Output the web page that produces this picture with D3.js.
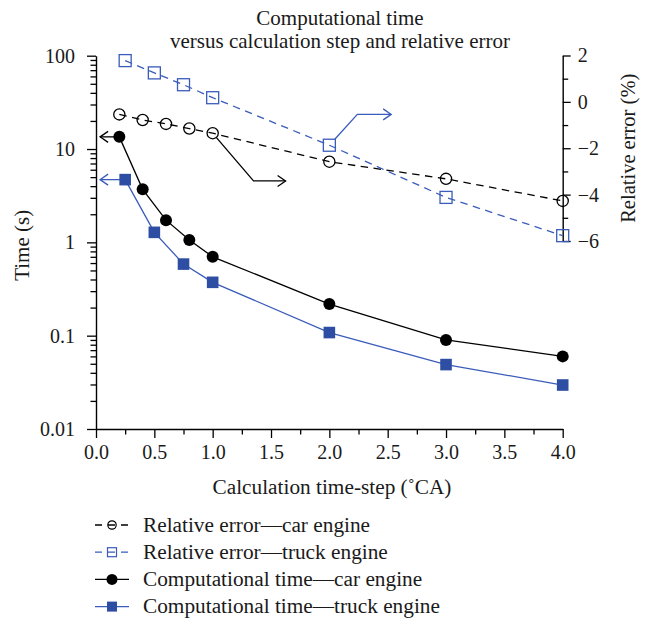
<!DOCTYPE html>
<html>
<head>
<meta charset="utf-8">
<script src="https://cdn.jsdelivr.net/npm/d3@7"></script>
<style>
  html, body { margin: 0; padding: 0; background: #fff; }
  svg text { font-family: "Liberation Serif", "DejaVu Serif", serif; fill: #1a1a1a; }
</style>
</head>
<body>
<svg id="chart" width="645" height="618"></svg>
<script>
// ---------- data ----------
const titleLines = ["Computational time", "versus calculation step and relative error"];
const xLabel = "Calculation time-step (\u02DACA)";
const yLeftLabel = "Time (s)";
const yRightLabel = "Relative error (%)";

const xTicks = [0, 0.5, 1, 1.5, 2, 2.5, 3, 3.5, 4];
const xTickLabels = ["0.0", "0.5", "1.0", "1.5", "2.0", "2.5", "3.0", "3.5", "4.0"];
const yLeftTicks = [0.01, 0.1, 1, 10, 100];
const yLeftTickLabels = ["0.01", "0.1", "1", "10", "100"];
const yRightTicks = [-6, -4, -2, 0, 2];
const yRightTickLabels = ["\u22126", "\u22124", "\u22122", "0", "2"];

const carSteps = [0.2, 0.4, 0.6, 0.8, 1.0, 2.0, 3.0, 4.0];
const truckSteps = [0.25, 0.5, 0.75, 1.0, 2.0, 3.0, 4.0];
const carTime = [13.5, 3.7, 1.73, 1.06, 0.70, 0.218, 0.09, 0.06];
const truckTime = [4.7, 1.28, 0.585, 0.373, 0.108, 0.049, 0.0296];
const carError = [-0.54, -0.78, -0.95, -1.15, -1.35, -2.58, -3.32, -4.27];
const truckError = [1.78, 1.25, 0.74, 0.18, -1.87, -4.12, -5.77];

const legendLabels = [
  "Relative error\u2014car engine",
  "Relative error\u2014truck engine",
  "Computational time\u2014car engine",
  "Computational time\u2014truck engine"
];

// ---------- setup ----------
const BLACK = "#000";
const BLUE_LINE = "#3a5cba";
const BLUE_FILL = "#2e4ea3";
const svg = d3.select("#chart");

const x = d3.scaleLinear().domain([0, 4]).range([96, 562.7]);
const yL = d3.scaleLog().domain([0.01, 100]).range([429, 55.7]);
const yR = d3.scaleLinear().domain([-6, 2]).range([241, 55.5]);

// ---------- title ----------
svg.append("text").attr("x", 340).attr("y", 25).attr("text-anchor", "middle")
  .style("font-size", "21px").text(titleLines[0]);
svg.append("text").attr("x", 340).attr("y", 48).attr("text-anchor", "middle")
  .style("font-size", "21px").text(titleLines[1]);

// ---------- axes ----------
function styleAxis(g) {
  g.selectAll("path").attr("stroke", BLACK).attr("stroke-width", 1.4);
  g.selectAll("line").attr("stroke", BLACK).attr("stroke-width", 1.3);
  g.selectAll("text").style("font-size", "20px").attr("fill", "#1a1a1a")
    .style("font-family", '"Liberation Serif", serif');
}

// x minor
const xMinor = d3.range(0.25, 4, 0.5);
svg.append("g").attr("transform", `translate(0,${yL(0.01)})`)
  .call(d3.axisBottom(x).tickValues(xMinor).tickSize(5.5).tickFormat(""))
  .call(g => g.select(".domain").remove())
  .call(styleAxis);
const gx = svg.append("g").attr("transform", `translate(0,${yL(0.01)})`)
  .call(d3.axisBottom(x).tickValues(xTicks).tickSize(9).tickSizeOuter(0)
    .tickFormat((d, i) => xTickLabels[i]))
  .call(styleAxis);
gx.selectAll("text").attr("y", 30).attr("dy", 0);

// left minor
const yMinor = [];
yLeftTicks.slice(0, -1).forEach(d => { for (let k = 2; k <= 9; k++) yMinor.push(k * d); });
svg.append("g").attr("transform", `translate(${x(0)},0)`)
  .call(d3.axisLeft(yL).tickValues(yMinor).tickSize(5.5).tickFormat(""))
  .call(g => g.select(".domain").remove())
  .call(styleAxis);
svg.append("g").attr("transform", `translate(${x(0)},0)`)
  .call(d3.axisLeft(yL).tickValues(yLeftTicks).tickSize(9).tickSizeOuter(0).tickPadding(12)
    .tickFormat((d, i) => yLeftTickLabels[i]))
  .call(styleAxis);

// right axis
const yRMinor = [-5, -3, -1, 1];
svg.append("g").attr("transform", `translate(${x(4)},0)`)
  .call(d3.axisRight(yR).tickValues(yRMinor).tickSize(5.5).tickFormat(""))
  .call(g => g.select(".domain").remove())
  .call(styleAxis);
svg.append("g").attr("transform", `translate(${x(4)},0)`)
  .call(d3.axisRight(yR).tickValues(yRightTicks).tickSize(8).tickSizeOuter(0).tickPadding(7)
    .tickFormat((d, i) => yRightTickLabels[i]))
  .call(styleAxis);

// axis titles
svg.append("text").attr("x", 332).attr("y", 494).attr("text-anchor", "middle")
  .style("font-size", "21.3px").text(xLabel);
svg.append("text").attr("transform", `translate(29,${(yL(0.01) + yL(100)) / 2 + 3}) rotate(-90)`)
  .attr("text-anchor", "middle").style("font-size", "21px").text(yLeftLabel);
svg.append("text").attr("transform", `translate(635,${(yR(-6) + yR(2)) / 2}) rotate(-90)`)
  .attr("text-anchor", "middle").style("font-size", "20.5px").text(yRightLabel);

// ---------- series ----------
const DASH = "7.5,5.5";
const carErrPts = carSteps.map((s, i) => [x(s), yR(carError[i])]);
const truckErrPts = truckSteps.map((s, i) => [x(s), yR(truckError[i])]);
const carTimePts = carSteps.map((s, i) => [x(s), yL(carTime[i])]);
const truckTimePts = truckSteps.map((s, i) => [x(s), yL(truckTime[i])]);
const line = d3.line();

svg.append("path").attr("d", line(truckErrPts)).attr("fill", "none")
  .attr("stroke", BLUE_LINE).attr("stroke-width", 1.3).attr("stroke-dasharray", DASH);
svg.append("path").attr("d", line(carErrPts)).attr("fill", "none")
  .attr("stroke", BLACK).attr("stroke-width", 1.3).attr("stroke-dasharray", DASH);
svg.append("path").attr("d", line(truckTimePts)).attr("fill", "none")
  .attr("stroke", BLUE_LINE).attr("stroke-width", 1.3);
svg.append("path").attr("d", line(carTimePts)).attr("fill", "none")
  .attr("stroke", BLACK).attr("stroke-width", 1.3);

// ---------- annotation arrows (data units) ----------
function arrowHead(g, tip, dir, color) {
  const L = 8, W = 5.5;
  const [ux, uy] = dir;
  const px = -uy, py = ux;
  const p1 = [tip[0] - ux * L + px * W, tip[1] - uy * L + py * W];
  const p2 = [tip[0] - ux * L - px * W, tip[1] - uy * L - py * W];
  g.append("path").attr("d", `M${p1}L${tip}L${p2}`).attr("fill", "none")
    .attr("stroke", color).attr("stroke-width", 1.3);
}
const ann = svg.append("g");
// car time -> left axis
{
  const s = carTimePts[0];
  const tip = [x(0.035), s[1]];
  ann.append("path").attr("d", `M${s}L${tip}`).attr("stroke", BLACK).attr("stroke-width", 1.3).attr("fill", "none");
  arrowHead(ann, tip, [-1, 0], BLACK);
}
// truck time -> left axis
{
  const s = truckTimePts[0];
  const tip = [x(0.035), s[1]];
  ann.append("path").attr("d", `M${s}L${tip}`).attr("stroke", BLUE_LINE).attr("stroke-width", 1.3).attr("fill", "none");
  arrowHead(ann, tip, [-1, 0], BLUE_LINE);
}
// car error -> right axis (elbow)
{
  const c = carErrPts[4];
  const elbow = [x(1.35), yL(4.55)];
  const tip = [x(1.625), elbow[1]];
  const dx = elbow[0] - c[0], dy = elbow[1] - c[1], len = Math.hypot(dx, dy);
  const s = [c[0] + dx / len * 5.5, c[1] + dy / len * 5.5];
  ann.append("path").attr("d", `M${s}L${elbow}L${tip}`).attr("stroke", BLACK).attr("stroke-width", 1.3).attr("fill", "none");
  arrowHead(ann, tip, [1, 0], BLACK);
}
// truck error -> right axis (elbow)
{
  const c = truckErrPts[4];
  const elbow = [x(2.24), yR(-0.54)];
  const tip = [x(2.53), elbow[1]];
  const dx = elbow[0] - c[0], dy = elbow[1] - c[1];
  const t = 6 / Math.abs(dy);
  const s = [c[0] + dx * t, c[1] + dy * t];
  ann.append("path").attr("d", `M${s}L${elbow}L${tip}`).attr("stroke", BLUE_LINE).attr("stroke-width", 1.3).attr("fill", "none");
  arrowHead(ann, tip, [1, 0], BLUE_LINE);
}

// ---------- markers ----------
svg.append("g").selectAll("rect").data(truckErrPts).join("rect")
  .attr("x", d => d[0] - 6).attr("y", d => d[1] - 6).attr("width", 12).attr("height", 12)
  .attr("fill", "none").attr("stroke", BLUE_LINE).attr("stroke-width", 1.3);
svg.append("g").selectAll("circle").data(carErrPts).join("circle")
  .attr("cx", d => d[0]).attr("cy", d => d[1]).attr("r", 5.6)
  .attr("fill", "none").attr("stroke", BLACK).attr("stroke-width", 1.3);
svg.append("g").selectAll("rect").data(truckTimePts).join("rect")
  .attr("x", d => d[0] - 5.8).attr("y", d => d[1] - 5.8).attr("width", 11.6).attr("height", 11.6)
  .attr("fill", BLUE_FILL);
svg.append("g").selectAll("circle").data(carTimePts).join("circle")
  .attr("cx", d => d[0]).attr("cy", d => d[1]).attr("r", 6)
  .attr("fill", BLACK);

// ---------- legend ----------
const legendStyles = [
  { color: BLACK, dash: "7,6", marker: "circle", filled: false },
  { color: BLUE_LINE, dash: "7,6", marker: "square", filled: false },
  { color: BLACK, dash: null, marker: "circle", filled: true },
  { color: BLUE_LINE, dash: null, marker: "square", filled: true }
];
const lg = svg.append("g");
legendLabels.forEach((lab, i) => {
  const st = legendStyles[i];
  const cy = 525 + i * 27.2;
  const g = lg.append("g");
  g.append("line").attr("x1", 95).attr("x2", 129).attr("y1", cy).attr("y2", cy)
    .attr("stroke", st.color).attr("stroke-width", 1.3)
    .attr("stroke-dasharray", st.dash);
  if (st.marker === "circle") {
    g.append("circle").attr("cx", 112).attr("cy", cy).attr("r", st.filled ? 5.5 : 4.2)
      .attr("fill", st.filled ? BLACK : "none").attr("stroke", st.filled ? "none" : BLACK).attr("stroke-width", 1.2);
  } else {
    const s = st.filled ? 10 : 9;
    g.append("rect").attr("x", 112 - s / 2).attr("y", cy - s / 2).attr("width", s).attr("height", s)
      .attr("fill", st.filled ? BLUE_FILL : "none").attr("stroke", st.filled ? "none" : BLUE_LINE).attr("stroke-width", 1.2);
  }
  g.append("text").attr("x", 143).attr("y", cy + 6.8).style("font-size", "21.3px").text(lab);
});
</script>
</body>
</html>
